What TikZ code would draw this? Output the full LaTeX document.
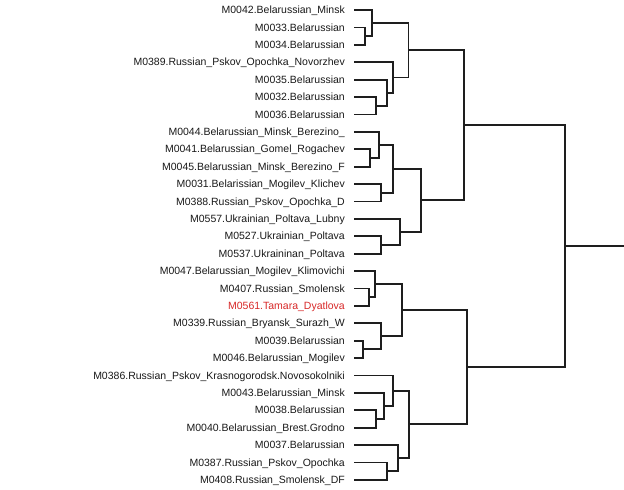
\documentclass[tikz,border=0pt]{standalone}
\usepackage{fontspec}
\setmainfont{Liberation Sans}
\definecolor{treeline}{RGB}{30,30,30}
\definecolor{labeltxt}{RGB}{25,25,25}
\definecolor{labelred}{RGB}{215,40,40}
\newcommand\leafnode[4][labeltxt]{%
  \node[lbl,text=#1] (t#2) at (345,#3) {#4};
  \coordinate (p#2) at (354,#3);}
\begin{document}
\begin{tikzpicture}[x=1pt,y=-1pt,
  lbl/.style={anchor=east,inner sep=0pt,text height=7.5pt,text depth=0pt,font=\fontsize{10.5}{12}\selectfont},
  branch/.style={draw=treeline,line width=1.8pt,line join=miter}]
\useasboundingbox (0,0) rectangle (624,490);
% leaves
\leafnode{0}{10}{M0042.Belarussian\_Minsk}
\leafnode{1}{27.4}{M0033.Belarussian}
\leafnode{2}{44.8}{M0034.Belarussian}
\leafnode{3}{62.2}{M0389.Russian\_Pskov\_Opochka\_Novorzhev}
\leafnode{4}{79.6}{M0035.Belarussian}
\leafnode{5}{97}{M0032.Belarussian}
\leafnode{6}{114.4}{M0036.Belarussian}
\leafnode{7}{131.8}{M0044.Belarussian\_Minsk\_Berezino\_}
\leafnode{8}{149.2}{M0041.Belarussian\_Gomel\_Rogachev}
\leafnode{9}{166.6}{M0045.Belarussian\_Minsk\_Berezino\_F}
\leafnode{10}{184}{M0031.Belarissian\_Mogilev\_Klichev}
\leafnode{11}{201.4}{M0388.Russian\_Pskov\_Opochka\_D}
\leafnode{12}{218.8}{M0557.Ukrainian\_Poltava\_Lubny}
\leafnode{13}{236.2}{M0527.Ukrainian\_Poltava}
\leafnode{14}{253.6}{M0537.Ukraininan\_Poltava}
\leafnode{15}{271}{M0047.Belarussian\_Mogilev\_Klimovichi}
\leafnode{16}{288.4}{M0407.Russian\_Smolensk}
\leafnode[labelred]{17}{305.8}{M0561.Tamara\_Dyatlova}
\leafnode{18}{323.2}{M0339.Russian\_Bryansk\_Surazh\_W}
\leafnode{19}{340.6}{M0039.Belarussian}
\leafnode{20}{358}{M0046.Belarussian\_Mogilev}
\leafnode{21}{375.4}{M0386.Russian\_Pskov\_Krasnogorodsk.Novosokolniki}
\leafnode{22}{392.8}{M0043.Belarussian\_Minsk}
\leafnode{23}{410.2}{M0038.Belarussian}
\leafnode{24}{427.6}{M0040.Belarussian\_Brest.Grodno}
\leafnode{25}{445}{M0037.Belarussian}
\leafnode{26}{462.4}{M0387.Russian\_Pskov\_Opochka}
\leafnode{27}{479.8}{M0408.Russian\_Smolensk\_DF}
% internal nodes
\coordinate (a1) at (364.7,36.1);
\coordinate (a2) at (371.7,23.05);
\coordinate (a3) at (375.7,105.7);
\coordinate (a4) at (387.3,92.65);
\coordinate (a5) at (393.3,77.4);
\coordinate (A)  at (408.5,50.2);
\coordinate (b1) at (370,157.9);
\coordinate (b2) at (379,144.85);
\coordinate (b3) at (381,192.7);
\coordinate (b4) at (393.3,168.8);
\coordinate (b5) at (380.7,244.9);
\coordinate (b6) at (400,231.85);
\coordinate (B)  at (421,200.3);
\coordinate (AB) at (464.3,125.3);
\coordinate (c1) at (369.3,297.1);
\coordinate (c2) at (375,284.05);
\coordinate (c3) at (363.3,349.3);
\coordinate (c4) at (381,336.25);
\coordinate (C)  at (402,310.15);
\coordinate (d1) at (375.7,418.9);
\coordinate (d2) at (384.3,405.85);
\coordinate (d3) at (393.3,390.6);
\coordinate (d4) at (387.3,471.1);
\coordinate (d5) at (398.3,458.05);
\coordinate (D)  at (409,424.3);
\coordinate (CD) at (466.7,367.2);
\coordinate (root) at (565,246.3);
\coordinate (rootend) at (624,246.3);
% branches
\path[branch] (p1) -| (a1) |- (p2);
\path[branch] (p0) -| (a2) |- (a1);
\path[branch] (p5) -| (a3) |- (p6);
\path[branch] (p4) -| (a4) |- (a3);
\path[branch] (p3) -| (a5) |- (a4);
\path[branch] (a2) -| (A) |- (a5);
\path[branch] (p8) -| (b1) |- (p9);
\path[branch] (p7) -| (b2) |- (b1);
\path[branch] (p10) -| (b3) |- (p11);
\path[branch] (b2) -| (b4) |- (b3);
\path[branch] (p13) -| (b5) |- (p14);
\path[branch] (p12) -| (b6) |- (b5);
\path[branch] (b4) -| (B) |- (b6);
\path[branch] (A) -| (AB) |- (B);
\path[branch] (p16) -| (c1) |- (p17);
\path[branch] (p15) -| (c2) |- (c1);
\path[branch] (p19) -| (c3) |- (p20);
\path[branch] (p18) -| (c4) |- (c3);
\path[branch] (c2) -| (C) |- (c4);
\path[branch] (p23) -| (d1) |- (p24);
\path[branch] (p22) -| (d2) |- (d1);
\path[branch] (p21) -| (d3) |- (d2);
\path[branch] (p26) -| (d4) |- (p27);
\path[branch] (p25) -| (d5) |- (d4);
\path[branch] (d3) -| (D) |- (d5);
\path[branch] (C) -| (CD) |- (D);
\path[branch] (AB) -| (root) |- (CD);
\path[branch] (root) -- (rootend);
\end{tikzpicture}
\end{document}
